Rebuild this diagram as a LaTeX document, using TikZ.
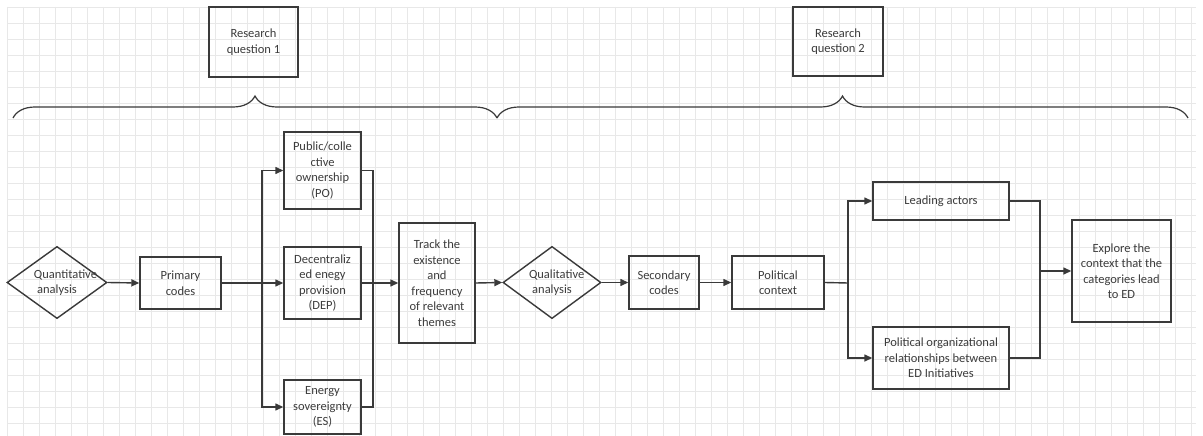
\documentclass[tikz,border=0pt]{standalone}
\usepackage{fontspec}
\setmainfont{Carlito}
\usetikzlibrary{shapes.geometric,arrows.meta,decorations.pathreplacing}
\definecolor{ink}{HTML}{3A3A3A}
\definecolor{txt}{HTML}{3C3C3C}
\definecolor{gridc}{HTML}{E8E8E8}
\tikzset{
  box/.style={draw=ink,line width=1.4pt,rectangle,inner sep=0pt,align=center,
    text=txt,font=\fontsize{12.5}{15.5}\selectfont},
  dbox/.style={draw=ink,line width=1.4pt,diamond,inner sep=0pt,align=center,
    text width=46pt,text=txt,font=\fontsize{12.5}{15.5}\selectfont},
  conn/.style={draw=ink,line width=1.4pt},
  arr/.style={conn,-{Triangle[length=8pt,width=7pt]}},
  bracestyle/.style={draw=ink,line width=1.2pt,decorate,
    decoration={brace,amplitude=22pt,aspect=0.5}},
  gridline/.style={draw=gridc,line width=0.7pt}
}
\begin{document}
\begin{tikzpicture}[x=1pt,y=-1pt]
\useasboundingbox (0,0) rectangle (1203,436);
\fill[white] (0,0) rectangle (1203,436);
\foreach \gx in {7,23,...,1196} {\draw[gridline] (\gx,7) -- (\gx,436);}
\foreach \gy in {7,23,...,436} {\draw[gridline] (7,\gy) -- (1196,\gy);}

% top boxes
\node[box,minimum width=89pt,minimum height=70pt] (rq1) at (253.5,42) {Research\\question 1};
\node[box,minimum width=90pt,minimum height=69pt] (rq2) at (838,41.5) {Research\\question 2};

% braces
\coordinate (b1l) at (13,118);
\coordinate (b1r) at (497,118);
\coordinate (b2l) at (497,118);
\coordinate (b2r) at (1188,118);
\draw[bracestyle] (b1l) -- (b1r);
\draw[bracestyle] (b2l) -- (b2r);

% left part
\node[dbox,minimum width=100pt,minimum height=69pt] (qa) at (57,282.5) {Quantitative\\analysis};
\node[box,minimum width=81pt,minimum height=52pt] (pc) at (180.5,283) {Primary\\codes};
\node[box,minimum width=77pt,minimum height=77pt] (po) at (322.5,170.5) {Public/colle\\ctive\\ownership\\(PO)};
\node[box,minimum width=77pt,minimum height=72pt] (dep) at (322.5,283) {Decentraliz\\ed enegy\\provision\\(DEP)};
\node[box,minimum width=77pt,minimum height=54pt] (es) at (322.5,407) {Energy\\sovereignty\\(ES)};
\node[box,minimum width=76pt,minimum height=120pt] (tr) at (437,283) {Track the\\existence\\and\\frequency\\of relevant\\themes};

% right part
\node[dbox,minimum width=98pt,minimum height=69pt] (ql) at (552,282.5) {Qualitative\\analysis};
\node[box,minimum width=70pt,minimum height=53pt] (sc) at (664,282.5) {Secondary\\codes};
\node[box,minimum width=92pt,minimum height=53pt] (pol) at (778,282.5) {Political\\context};
\node[box,minimum width=136pt,minimum height=38pt] (la) at (941,201) {Leading actors};
\node[box,minimum width=136pt,minimum height=62pt] (por) at (941,358) {Political organizational\\relationships between\\ED Initiatives};
\node[box,minimum width=99pt,minimum height=102pt] (ex) at (1121.5,271) {Explore the\\context that the\\categories lead\\to ED};

% connectors left
\coordinate (s1) at (262,283);
\coordinate (m1) at (373,283);
\draw[arr] (qa.east) -- (pc.west);
\draw[conn] (pc.east) -- (s1);
\draw[arr] (s1) |- (po.west);
\draw[arr] (s1) |- (es.west);
\draw[arr] (s1) -- (dep.west);
\draw[conn] (po.east) -| (m1);
\draw[conn] (es.east) -| (m1);
\draw[conn] (dep.east) -- (m1);
\draw[arr] (m1) -- (tr.west);
\draw[arr] (tr.east) -- (ql.west);

% connectors right
\coordinate (s2) at (848,283);
\coordinate (m2) at (1040,271);
\draw[arr] (ql.east) -- (sc.west);
\draw[arr] (sc.east) -- (pol.west);
\draw[conn] (pol.east) -- (s2);
\draw[arr] (s2) |- (la.west);
\draw[arr] (s2) |- (por.west);
\draw[conn] (la.east) -| (m2);
\draw[conn] (por.east) -| (m2);
\draw[arr] (m2) -- (ex.west);
\end{tikzpicture}
\end{document}
